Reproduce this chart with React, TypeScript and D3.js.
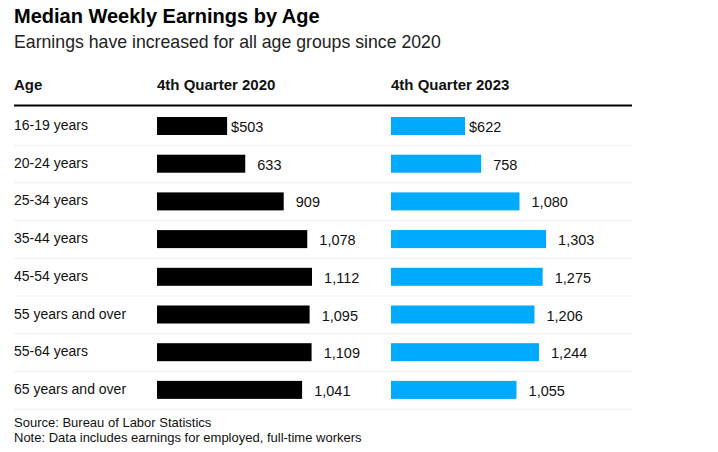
import * as d3 from "d3";

const WIDTH = 718;
const HEIGHT = 452;

const ages = [
  "16-19 years",
  "20-24 years",
  "25-34 years",
  "35-44 years",
  "45-54 years",
  "55 years and over",
  "55-64 years",
  "65 years and over",
];
const q4_2020 = [503, 633, 909, 1078, 1112, 1095, 1109, 1041];
const q4_2023 = [622, 758, 1080, 1303, 1275, 1206, 1244, 1055];

const ROW_TOP = 108;
const ROW_STEP = 37.7;
const BAR_H = 18;
const BAR_W = 155;
const LEFT = 14;
const RIGHT = 632;
const COL_2020 = 157;
const COL_2023 = 391;

const FONT = "'Liberation Sans', Arial, sans-serif";

export default function App() {
  const yScale = d3
    .scaleBand<string>()
    .domain(ages)
    .range([ROW_TOP, ROW_TOP + ROW_STEP * ages.length])
    .paddingInner(0)
    .paddingOuter(0);

  const x2020 = d3
    .scaleLinear()
    .domain([0, d3.max(q4_2020) || 1])
    .range([0, BAR_W]);
  const x2023 = d3
    .scaleLinear()
    .domain([0, d3.max(q4_2023) || 1])
    .range([0, BAR_W]);

  const fmt = d3.format(",");

  const columns = [
    { x0: COL_2020, scale: x2020, values: q4_2020, color: "#000000" },
    { x0: COL_2023, scale: x2023, values: q4_2023, color: "#00AAFF" },
  ];

  const rows = ages.map((age, i) => {
    const y = yScale(age) || 0;
    const mid = y + 18;
    return (
      <g key={age}>
        <text x={LEFT} y={mid + 4} fontFamily={FONT} fontSize={14} fill="#111">
          {age}
        </text>
        {columns.map((c, j) => {
          const w = c.scale(c.values[i]);
          return (
            <g key={j}>
              <rect
                x={c.x0}
                y={mid - BAR_H / 2}
                width={w}
                height={BAR_H}
                fill={c.color}
              />
              {/* "$" only shown on the first row, kept invisible below for alignment */}
              <text
                x={c.x0 + w + 4}
                y={mid + 6}
                fontFamily={FONT}
                fontSize={14.5}
                fill="#111"
              >
                <tspan fillOpacity={i === 0 ? 1 : 0}>$</tspan>
                {fmt(c.values[i])}
              </text>
            </g>
          );
        })}
        <line
          x1={LEFT}
          x2={RIGHT}
          y1={y + ROW_STEP - 0.5}
          y2={y + ROW_STEP - 0.5}
          stroke="#efefef"
          strokeWidth={1}
        />
      </g>
    );
  });

  return (
    <svg
      width={WIDTH}
      height={HEIGHT}
      style={{ position: "absolute", left: 0, top: 0, background: "#fff" }}
    >
      <text
        x={LEFT}
        y={23}
        fontFamily={FONT}
        fontWeight="bold"
        fontSize={20}
        fill="#000"
      >
        Median Weekly Earnings by Age
      </text>
      <text x={LEFT} y={48} fontFamily={FONT} fontSize={17.7} fill="#222">
        Earnings have increased for all age groups since 2020
      </text>

      <g fontFamily={FONT} fontWeight="bold" fontSize={15} fill="#111">
        <text x={LEFT} y={90}>Age</text>
        <text x={COL_2020} y={90}>4th Quarter 2020</text>
        <text x={COL_2023} y={90}>4th Quarter 2023</text>
      </g>
      <line x1={LEFT} x2={RIGHT} y1={105.5} y2={105.5} stroke="#000" strokeWidth={2.2} />

      {rows}

      <g fontFamily={FONT} fontSize={13} fill="#111">
        <text x={LEFT} y={427}>Source: Bureau of Labor Statistics</text>
        <text x={LEFT} y={442}>Note: Data includes earnings for employed, full-time workers</text>
      </g>
    </svg>
  );
}
